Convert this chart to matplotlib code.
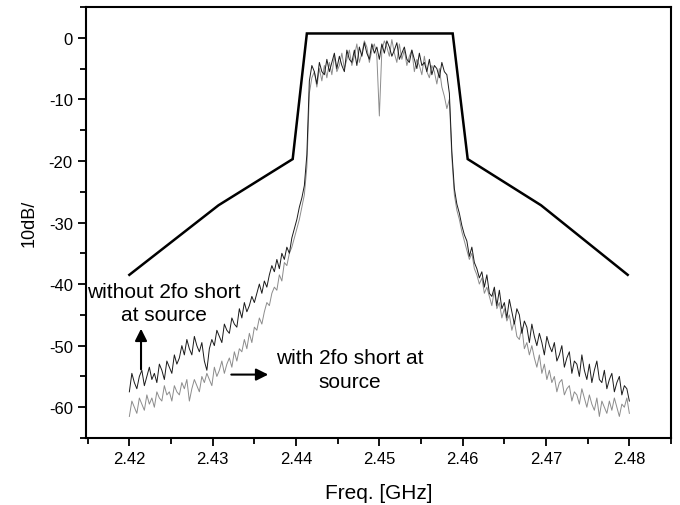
import numpy as np
import matplotlib
matplotlib.use("Agg")
import matplotlib.pyplot as plt
from matplotlib.ticker import MultipleLocator

plt.rcParams['font.family'] = ['Liberation Sans', 'DejaVu Sans']
plt.rcParams['axes.unicode_minus'] = False

# spectrum analyser sweep, 2.42 .. 2.48 GHz
freq = np.linspace(2.42, 2.48, 201)

# without 2fo short at source (black trace)
without_short = [
    -57.5, -54.5, -56.0, -57.0, -55.0, -54.0, -56.5, -55.0, -53.5, -55.5,
    -54.5, -56.0, -53.0, -54.0, -55.5, -52.5, -53.5, -54.5, -51.5, -53.0,
    -52.0, -50.0, -51.5, -49.0, -50.5, -51.5, -48.5, -50.0, -51.0, -49.5,
    -52.5, -54.0, -50.5, -49.0, -50.0, -47.5, -48.5, -49.5, -46.5, -47.5,
    -48.0, -45.5, -46.5, -47.0, -44.0, -45.5, -43.0, -44.5, -43.5, -42.0,
    -43.0, -41.5, -40.0, -41.5, -39.5, -40.5, -38.5, -37.0, -38.0, -36.0,
    -37.5, -35.0, -36.0, -34.0, -35.0, -32.5, -31.0, -29.5, -27.5, -26.0,
    -24.0, -19.0,
    -7.0, -4.5, -5.5, -7.5, -4.0, -5.5, -6.0, -3.5,
    -5.5, -4.0, -2.5, -5.0, -3.0, -4.5, -5.5, -2.0, -3.5, -4.0,
    -2.0, -4.5, -1.5, -3.0, -0.8, -2.5, -3.5, -1.0, -2.5, -1.5,
    -3.5, -1.0, -2.5, -0.5, -1.5, -3.0, -2.0, -0.8, -3.5, -2.5,
    -1.5, -3.5, -4.0, -2.0, -3.5, -5.0, -2.5, -4.5, -4.0, -5.5,
    -3.5, -6.0, -4.5, -5.0, -6.5, -4.0, -5.5, -6.0,
    -9.0, -18.5, -24.5, -27.0, -28.5, -30.5, -32.0, -33.0, -35.5, -34.0,
    -36.5, -37.5,
    -39.0, -38.0, -40.5, -38.5, -41.5, -42.0, -40.5, -43.5, -41.0, -44.0,
    -43.0, -45.5, -42.5, -44.5, -46.5, -44.0, -45.0, -48.0, -46.0, -47.0,
    -49.5, -46.5, -48.5, -50.0, -48.0, -49.5, -51.5, -48.5, -50.0, -51.0,
    -49.5, -52.5, -51.5, -50.0, -53.5, -52.0, -51.0, -54.5, -52.5, -53.0,
    -55.0, -51.5, -54.0, -55.5, -53.0, -56.0, -54.0, -52.5, -55.5, -56.0,
    -54.0, -57.0, -55.5, -54.5, -57.5, -56.0, -55.0, -58.0, -56.5, -57.0,
    -59.0,
]

# with 2fo short at source (gray trace)
with_short = [
    -61.5, -59.0, -60.0, -61.0, -58.5, -59.5, -60.5, -58.0, -59.5, -58.5,
    -60.0, -57.5, -58.5, -59.0, -56.5, -58.0, -57.5, -59.0, -56.5, -57.5,
    -58.0, -56.0, -57.0, -55.5, -59.0, -57.0, -55.5, -56.5, -57.5, -55.0,
    -56.0, -54.5, -55.5, -56.5, -53.5, -55.0, -54.0, -52.5, -54.5, -53.0,
    -52.0, -53.5, -51.0, -52.5, -50.5, -51.0, -49.0, -50.5, -48.0, -49.5,
    -47.0, -47.5, -45.5, -46.5, -44.5, -43.0, -43.5, -41.5, -40.5, -41.0,
    -38.5, -39.5, -36.5, -37.0, -35.0, -34.0, -32.5, -31.0, -29.5, -27.5,
    -25.5, -21.0,
    -9.0, -6.5, -5.5, -8.0, -5.0, -7.0, -4.5, -6.5,
    -4.0, -6.0, -3.0, -5.5, -4.5, -2.5, -5.0, -3.5, -2.0, -4.5,
    -3.0, -1.0, -4.0, -2.5, -0.5, -1.5, -4.0, -2.0, -1.0, -3.0,
    -12.7, -2.0, -0.5, -1.5, -3.0, -0.3, -2.5, -4.0, -1.0, -3.5,
    -2.0, -4.5, -3.0, -2.0, -5.5, -3.5, -4.5, -6.0, -3.0, -5.5,
    -6.5, -4.5, -5.5, -7.5, -5.0, -8.0, -9.5, -11.5,
    -10.0, -19.5, -25.5, -28.0, -29.5, -31.5, -33.0, -34.5, -36.0, -35.0,
    -37.5, -38.5,
    -40.0, -39.0, -41.5, -40.5, -42.0, -43.5, -41.0, -44.0, -43.0, -45.5,
    -44.0, -46.0, -45.0, -47.5, -46.0, -48.5, -49.0, -47.0, -50.5, -49.5,
    -51.5, -50.0, -52.0, -53.5, -51.5, -54.5, -53.0, -55.5, -54.0, -56.0,
    -55.0, -57.5, -56.0, -55.5, -58.0, -57.0, -56.5, -59.0, -57.5, -58.0,
    -59.5, -57.0, -58.5, -60.0, -58.0, -59.5, -60.5, -58.5, -61.5, -59.0,
    -60.0, -61.0, -59.0, -60.5, -58.5, -60.0, -61.5, -59.5, -60.0, -58.5,
    -61.0,
]

# spectral mask corners
mask_f = [2.4200, 2.4307, 2.4396, 2.4413, 2.4588, 2.4606, 2.4694, 2.4798]
mask_db = [-38.5, -27.2, -19.7, 0.7, 0.7, -19.7, -27.2, -38.5]

fig = plt.figure(figsize=(6.8, 5.06), dpi=100)
ax = fig.add_axes([0.1265, 0.1324, 0.8603, 0.8518])

ax.plot(mask_f, mask_db, color='black', lw=1.8, solid_joinstyle='miter')
ax.plot(freq, with_short, color='#8c8c8c', lw=0.7)
ax.plot(freq, without_short, color='#1a1a1a', lw=0.7)

ax.set_xlim(2.4148, 2.485)
ax.set_ylim(-65, 5)
ax.xaxis.set_major_locator(MultipleLocator(0.01))
ax.xaxis.set_minor_locator(MultipleLocator(0.005))
ax.yaxis.set_major_locator(MultipleLocator(10))
ax.yaxis.set_minor_locator(MultipleLocator(5))
ax.xaxis.set_major_formatter(plt.FuncFormatter(lambda v, p: '%.2f' % v))
ax.tick_params(which='major', length=6, width=1.3, labelsize=12, direction='out')
ax.tick_params(which='minor', length=4, width=1.3, direction='out')
for s in ax.spines.values():
    s.set_linewidth(1.5)

ax.set_xlabel('Freq. [GHz]', fontsize=15, labelpad=12)
ax.set_ylabel('10dB/', fontsize=13, labelpad=8)

# annotations
ax.text(2.4241, -43.1, 'without 2fo short\nat source', fontsize=15,
        ha='center', va='center', linespacing=1.25)
ax.annotate('', xy=(2.4214, -46.8), xytext=(2.4214, -54.3),
            arrowprops=dict(arrowstyle='-|>', color='black', lw=1.5,
                            mutation_scale=18))
ax.text(2.4465, -53.9, 'with 2fo short at\nsource', fontsize=15,
        ha='center', va='center', linespacing=1.3)
ax.annotate('', xy=(2.4370, -54.7), xytext=(2.4319, -54.7),
            arrowprops=dict(arrowstyle='-|>', color='black', lw=1.5,
                            mutation_scale=18))

fig.savefig('out.png', dpi=100)
